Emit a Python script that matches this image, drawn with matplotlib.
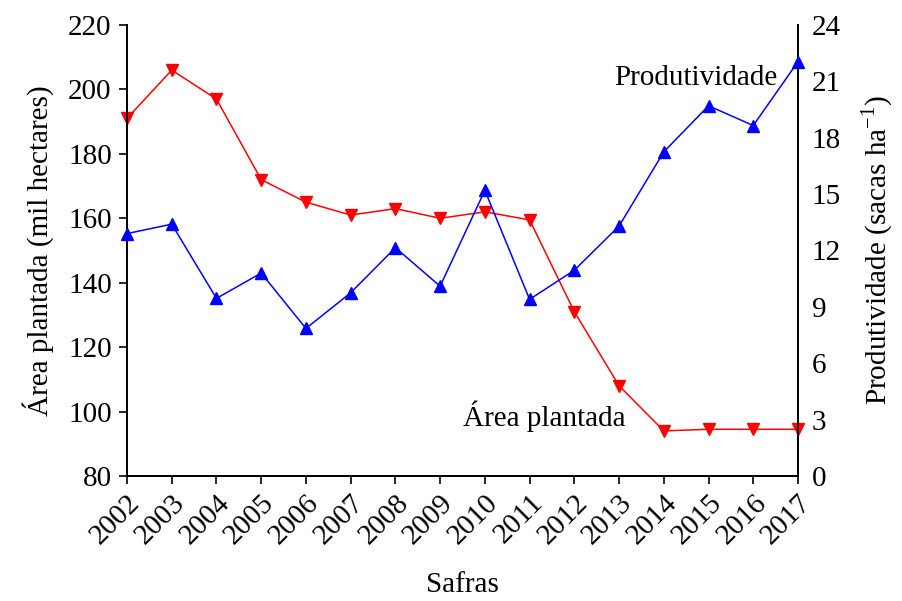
import matplotlib.pyplot as plt
import numpy as np

# dados
safras = [2002, 2003, 2004, 2005, 2006, 2007, 2008, 2009,
          2010, 2011, 2012, 2013, 2014, 2015, 2016, 2017]
area = [191, 206, 197, 172, 165, 161, 163, 160,
        162, 159.5, 131, 108, 94, 94.5, 94.5, 94.5]
produtividade = [12.9, 13.4, 9.45, 10.8, 7.85, 9.75, 12.15, 10.1,
                 15.2, 9.4, 10.95, 13.3, 17.25, 19.7, 18.65, 22.05]

plt.rcParams['font.family'] = ['Liberation Serif', 'DejaVu Serif']
plt.rcParams['mathtext.fontset'] = 'custom'
plt.rcParams['mathtext.rm'] = 'Liberation Serif'

fs = 21

fig = plt.figure(figsize=(9.02, 6.01), dpi=100)
ax = fig.add_axes([0.1408, 0.208, 0.7439, 0.7504])
ax2 = ax.twinx()

ax.plot(safras, area, color='red', lw=1.1, marker='v', ms=8.5, clip_on=False, zorder=3)
ax2.plot(safras, produtividade, color='blue', lw=1.1, marker='^', ms=8.5, clip_on=False, zorder=3)

ax.set_xlim(2002, 2017)
ax.set_ylim(80, 220)
ax.set_yticks(np.arange(80, 221, 20))
ax2.set_ylim(0, 24)
ax2.set_yticks(np.arange(0, 25, 3))

ax.set_xticks(safras)
ax.set_xticklabels([str(s) for s in safras], rotation=45, ha='right',
                   rotation_mode='anchor')

for a in (ax, ax2):
    a.spines['top'].set_visible(False)
    for s in a.spines.values():
        s.set_linewidth(1.3)
ax.tick_params(axis='both', direction='out', length=6, width=1.2, labelsize=fs)
ax.tick_params(axis='y', pad=5)
ax.tick_params(axis='x', pad=4)
ax2.tick_params(axis='y', length=0, labelsize=fs, pad=10)

ax.set_ylabel('Área plantada (mil hectares)', fontsize=fs, labelpad=10)
ax2.set_ylabel('Produtividade (sacas ha$^{-1}$)', fontsize=fs, labelpad=13)
ax.set_xlabel('Safras', fontsize=fs, labelpad=16)

ax.text(2016.55, 203.5, 'Produtividade', fontsize=fs, ha='right', va='center')
ax.text(2013.15, 98.5, 'Área plantada', fontsize=fs, ha='right', va='center')

fig.savefig('out.png', dpi=100)
